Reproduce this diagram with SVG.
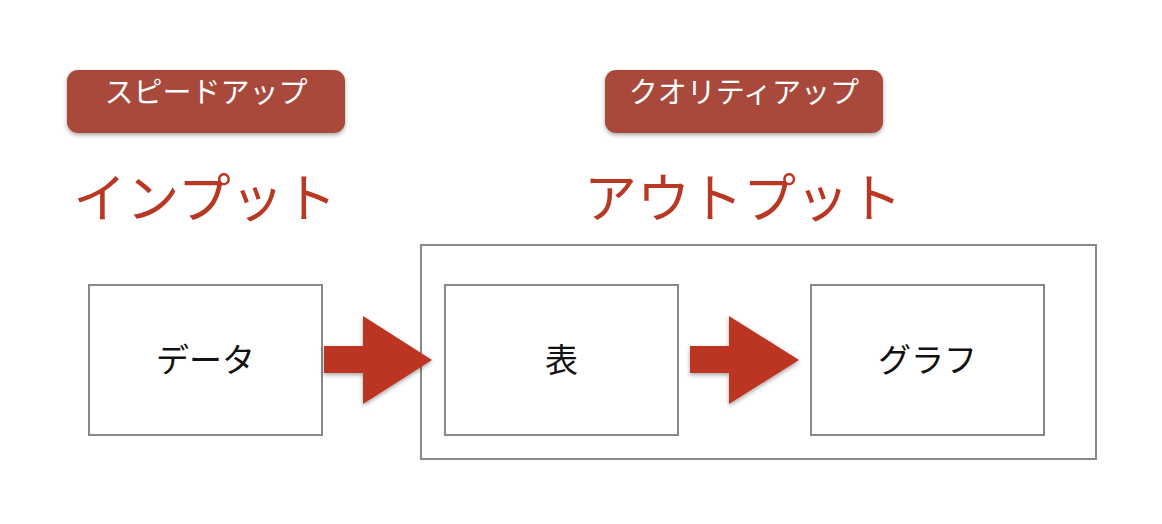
<svg xmlns="http://www.w3.org/2000/svg" width="1162" height="524" viewBox="0 0 1162 524">
<defs>
<style>
.badge{fill:#a84a3b}
.badgeText{fill:#ffffff;font-family:"Noto Sans CJK JP",sans-serif;font-size:29px;text-anchor:middle}
.title{fill:#b93824;font-family:"Noto Sans CJK JP",sans-serif;font-size:53px;text-anchor:middle}
.box{fill:#ffffff;stroke:#888888;stroke-width:2}
.outer{fill:none;stroke:#888888;stroke-width:2}
.label{fill:#111111;font-family:"Noto Sans CJK JP",sans-serif;font-size:33px;text-anchor:middle}
.arrow{fill:#bb3420}
</style>
<filter id="sh" x="-10%" y="-20%" width="120%" height="150%">
<feDropShadow dx="0" dy="2" stdDeviation="2" flood-color="#000" flood-opacity="0.35"/>
</filter>
</defs>
<rect width="1162" height="524" fill="#ffffff"/>
<g id="badge-speed">
<rect class="badge" x="67" y="70" width="278" height="63" rx="11" filter="url(#sh)"/>
<text class="badgeText" x="206" y="103">スピードアップ</text>
</g>
<g id="badge-quality">
<rect class="badge" x="605" y="70" width="278" height="63" rx="11" filter="url(#sh)"/>
<text class="badgeText" x="744" y="103">クオリティアップ</text>
</g>
<g id="title-input">
<text class="title" x="205" y="218">インプット</text>
</g>
<g id="title-output">
<text class="title" x="743" y="218">アウトプット</text>
</g>
<g id="output-group">
<rect class="outer" x="421" y="245" width="675" height="214"/>
</g>
<g id="node-data">
<rect class="box" x="89" y="285" width="233" height="150"/>
<text class="label" x="205.5" y="372">データ</text>
</g>
<g id="node-table">
<rect class="box" x="445" y="285" width="233" height="150"/>
<text class="label" x="561.5" y="372">表</text>
</g>
<g id="node-graph">
<rect class="box" x="811" y="285" width="233" height="150"/>
<text class="label" x="927.5" y="372">グラフ</text>
</g>
<g id="connectors">
<polygon class="arrow" filter="url(#sh)" points="324,346 363,346 363,316 432,360 363,404 363,373 324,373"/>
<polygon class="arrow" filter="url(#sh)" points="690,346 729,346 729,316 799,360 729,404 729,373 690,373"/>
</g>
</svg>
